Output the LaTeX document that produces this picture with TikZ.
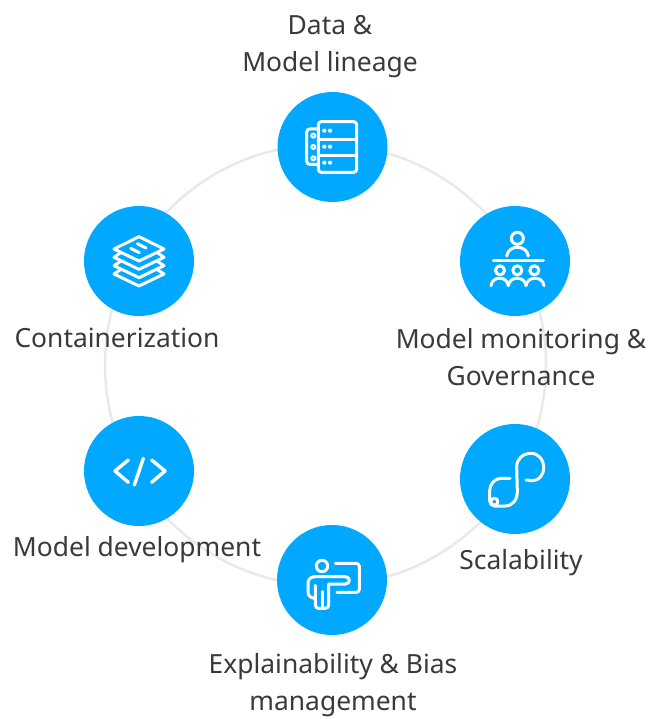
\documentclass[tikz,border=0pt]{standalone}
\usepackage{fontspec}
\setmainfont{Noto Sans}
\definecolor{hub}{HTML}{00A9FF}
\definecolor{ringc}{HTML}{E9E9E9}
\definecolor{txt}{HTML}{3A3A3A}
\tikzset{
  hubc/.style={circle,fill=hub,draw=none,minimum size=110pt,inner sep=0pt},
  lab/.style={text=txt,font=\fontsize{26.4}{37}\selectfont,align=center,inner sep=0pt},
  ic/.style={draw=white,line width=3pt,line cap=round,line join=round},
  iconbox/.style={x=0.33333pt,y=-0.33333pt}
}
\begin{document}
\begin{tikzpicture}[x=1pt,y=-1pt]
\useasboundingbox (0,0) rectangle (649,719);
\coordinate (ringc) at (325.5,365);
\draw[ringc,line width=2.5pt] (ringc) circle (220.5pt);
\node[hubc] (data) at (332.5,147) {};
\node[hubc] (mon) at (515,261) {};
\node[hubc] (scal) at (515,479) {};
\node[hubc] (expl) at (332,580) {};
\node[hubc] (dev) at (139,471) {};
\node[hubc] (cont) at (139,261) {};
\node[lab] (tdata) at (330,47) {Data \&\\Model lineage};
\node[lab] (tmon) at (521,357) {Model monitoring \&\\Governance};
\node[lab] (tscal) at (521,563) {Scalability};
\node[lab] (texpl) at (333,685.5) {Explainability \& Bias\\management};
\node[lab] (tdev) at (137,550) {Model development};
\node[lab] (tcont) at (117,338) {Containerization};
% server icon
\begin{scope}[shift={(data.center)},iconbox,shift={(-187.5,-186)}]
\draw[ic,rounded corners=3pt] (145,110) rectangle (260,262);
\draw[ic] (145,165) -- (260,165) (145,213) -- (260,213);
\draw[ic,rounded corners=3pt] (145,132) -- (110,132) -- (110,238) -- (145,238);
\foreach \y in {152,186,220} \draw[ic,line width=2pt] (130,\y) circle (2pt);
\foreach \y in {137,185,233} {\fill[white] (163,\y) circle (2.1pt); \fill[white] (180,\y) circle (2.1pt);}
\end{scope}
% monitoring icon
\begin{scope}[shift={(mon.center)},iconbox,shift={(-180,-183)}]
\draw[ic] (187,115) circle (6pt);
\draw[ic] (155,168) .. controls (158,150) and (172,142) .. (187,142) .. controls (203,142) and (217,150) .. (220,168);
\draw[ic] (115,182) -- (265,182);
\foreach \x in {135,187,238} \draw[ic] (\x,211) circle (4.5pt);
\draw[ic] (108,257) .. controls (112,227) and (156,227) .. (160,257) .. controls (164,227) and (209,227) .. (213,257) .. controls (217,227) and (263,227) .. (267,257);
\end{scope}
% scalability icon
\begin{scope}[shift={(scal.center)},iconbox,shift={(-180,-177)}]
\draw[ic] (213,180) -- (232,182) .. controls (252,182) and (266,165) .. (266,143) .. controls (266,118) and (250,100) .. (228,100) .. controls (203,100) and (185,118) .. (185,140) -- (187,215) .. controls (187,240) and (172,258) .. (150,258) -- (118,258) .. controls (110,258) and (104,250) .. (104,242) -- (104,212) .. controls (104,192) and (120,175) .. (138,175) -- (165,175);
\draw[ic] (118,245) circle (3.5pt);
\end{scope}
% explainability icon
\begin{scope}[shift={(expl.center)},iconbox,shift={(-180,-180)}]
\draw[ic] (150,138) circle (5.7pt);
\draw[ic,rounded corners=3pt] (190,130) -- (262,130) -- (262,217) -- (195,217);
\draw[ic] (130,196) -- (130,255) .. controls (130,262) and (135,265) .. (140,265) -- (160,265) .. controls (166,265) and (170,260) .. (170,255) -- (170,192) -- (220,192) .. controls (236,192) and (236,170) .. (220,170) -- (130,170) .. controls (116,170) and (108,178) .. (108,190) -- (108,218) .. controls (108,226) and (116,235) .. (130,235);
\draw[ic] (150,215) -- (150,262);
\end{scope}
% code icon
\begin{scope}[shift={(dev.center)},iconbox,shift={(-177,-183)}]
\draw[ic,line width=3.4pt] (145,150) -- (105,183) -- (145,217);
\draw[ic,line width=3.4pt] (190,145) -- (163,225);
\draw[ic,line width=3.4pt] (215,150) -- (255,183) -- (215,217);
\end{scope}
% layers icon
\begin{scope}[shift={(cont.center)},iconbox,shift={(-177,-183)}]
\draw[ic] (177,110) -- (252,147) -- (177,183) -- (102,147) -- cycle;
\draw[ic] (172,131) -- (198,144) (152,145) -- (178,158);
\draw[ic] (122,158) -- (102,172) -- (177,208) -- (252,172) -- (232,158);
\draw[ic] (122,184) -- (102,197) -- (177,233) -- (252,197) -- (232,184);
\draw[ic] (122,209) -- (102,222) -- (177,258) -- (252,222) -- (232,209);
\end{scope}
\end{tikzpicture}
\end{document}
